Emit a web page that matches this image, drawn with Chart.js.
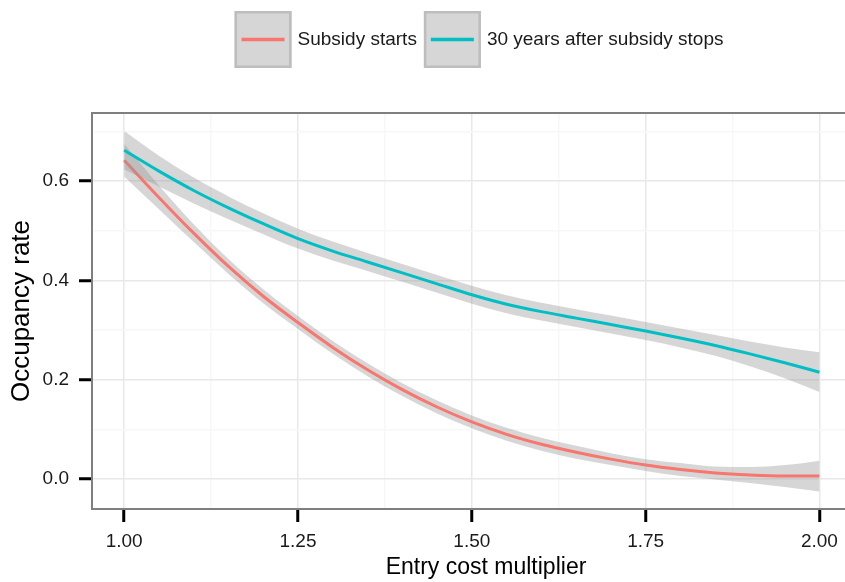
<!DOCTYPE html>
<html>
<head>
<meta charset="utf-8">
<title>Occupancy rate vs entry cost multiplier</title>
<script src="https://cdn.jsdelivr.net/npm/chart.js@4.4.1/dist/chart.umd.min.js"></script>
<style>
    html, body { margin: 0; padding: 0; background: #fff; overflow: hidden; }
    #chart { display: block; }
</style>
</head>
<body>
<canvas id="chart" width="890" height="582"></canvas>
<script>
// values
const xValues = [1.00, 1.05, 1.10, 1.15, 1.20, 1.25, 1.30, 1.35, 1.40, 1.45, 1.50,
                 1.55, 1.60, 1.65, 1.70, 1.75, 1.80, 1.85, 1.90, 1.95, 2.00];

const startsFit = [0.642, 0.567, 0.495, 0.428, 0.368, 0.315, 0.265, 0.220, 0.180, 0.145, 0.115,
                   0.090, 0.070, 0.054, 0.040, 0.028, 0.019, 0.012, 0.008, 0.006, 0.006];
const startsLow = [0.609, 0.543, 0.477, 0.413, 0.354, 0.302, 0.252, 0.207, 0.167, 0.132, 0.102,
                   0.077, 0.057, 0.041, 0.028, 0.016, 0.006, -0.001, -0.008, -0.016, -0.025];
const startsHigh = [0.675, 0.591, 0.513, 0.443, 0.382, 0.328, 0.278, 0.233, 0.193, 0.158, 0.128,
                    0.103, 0.083, 0.067, 0.052, 0.040, 0.032, 0.025, 0.024, 0.028, 0.037];

const afterFit = [0.662, 0.620, 0.581, 0.546, 0.514, 0.484, 0.459, 0.437, 0.415, 0.393, 0.371,
                  0.352, 0.337, 0.324, 0.311, 0.298, 0.284, 0.269, 0.252, 0.234, 0.215];
const afterLow = [0.623, 0.589, 0.555, 0.523, 0.493, 0.464, 0.440, 0.419, 0.397, 0.375, 0.353,
                  0.334, 0.319, 0.306, 0.293, 0.280, 0.265, 0.248, 0.227, 0.203, 0.175];
const afterHigh = [0.701, 0.651, 0.607, 0.569, 0.535, 0.504, 0.478, 0.455, 0.433, 0.411, 0.389,
                   0.370, 0.355, 0.342, 0.329, 0.316, 0.303, 0.290, 0.277, 0.265, 0.255];

const seriesNames = ['Subsidy starts', '30 years after subsidy stops'];
const seriesColors = ['#F8766D', '#00BFC4'];

const xTicks = [1.00, 1.25, 1.50, 1.75, 2.00];
const xTickLabels = ['1.00', '1.25', '1.50', '1.75', '2.00'];
const xMinorTicks = [1.125, 1.375, 1.625, 1.875];
const yTicks = [0.0, 0.2, 0.4, 0.6];
const yTickLabels = ['0.0', '0.2', '0.4', '0.6'];
const yMinorTicks = [0.1, 0.3, 0.5, 0.7];

const FONT = '"Liberation Sans", Arial, Helvetica, sans-serif';
const bandColor = 'rgba(153,153,153,0.4)';

function points(ys) {
    return xValues.map((x, i) => ({ x: x, y: ys[i] }));
}

function lineSet(label, ys, color) {
    return {
        label: label,
        data: points(ys),
        borderColor: color,
        borderWidth: 3,
        pointRadius: 0,
        fill: false,
        cubicInterpolationMode: 'monotone'
    };
}

function bandSet(ys, fillTo) {
    return {
        data: points(ys),
        borderColor: 'rgba(0,0,0,0)',
        borderWidth: 0,
        pointRadius: 0,
        backgroundColor: bandColor,
        fill: fillTo,
        cubicInterpolationMode: 'monotone'
    };
}

function setTicks(scale, majors, minors) {
    const list = majors.map(v => ({ value: v, minor: false }))
        .concat(minors.map(v => ({ value: v, minor: true })));
    list.sort((a, b) => a.value - b.value);
    scale.ticks = list;
}

// panel border drawn over the data, like ggplot does
const panelBorder = {
    id: 'panelBorder',
    afterDatasetsDraw(chart) {
        const a = chart.chartArea;
        const ctx = chart.ctx;
        ctx.save();
        ctx.strokeStyle = '#7f7f7f';
        ctx.lineWidth = 2;
        ctx.strokeRect(a.left, a.top, a.right - a.left, a.bottom - a.top);
        ctx.restore();
    }
};

// legend with grey keys on top
const keyLegend = {
    id: 'keyLegend',
    afterDraw(chart) {
        const ctx = chart.ctx;
        ctx.save();
        ctx.font = '19px ' + FONT;
        const box = 57, gapText = 6, gapItem = 7;
        const widths = seriesNames.map(n => ctx.measureText(n).width);
        let total = gapItem * (seriesNames.length - 1);
        widths.forEach(w => { total += box + gapText + w; });
        let x = 479 - total / 2;
        const top = 11;
        const mid = top + box / 2;
        seriesNames.forEach((name, i) => {
            ctx.fillStyle = '#d6d6d6';
            ctx.fillRect(x, top, box, box);
            ctx.strokeStyle = '#bdbdbd';
            ctx.lineWidth = 2.5;
            ctx.strokeRect(x + 1.25, top + 1.25, box - 2.5, box - 2.5);
            ctx.strokeStyle = seriesColors[i];
            ctx.lineWidth = 3.3;
            ctx.beginPath();
            ctx.moveTo(x + 7, mid);
            ctx.lineTo(x + box - 7, mid);
            ctx.stroke();
            ctx.fillStyle = '#1a1a1a';
            ctx.textBaseline = 'middle';
            ctx.textAlign = 'left';
            ctx.fillText(name, x + box + gapText, mid);
            x += box + gapText + widths[i] + gapItem;
        });
        ctx.restore();
    }
};

Chart.defaults.font.family = FONT;
Chart.defaults.color = '#1a1a1a';

const gridColor = ctx => (ctx.tick && ctx.tick.minor) ? '#f7f7f7' : '#e8e8e8';
const tickColor = ctx => (ctx.tick && ctx.tick.minor) ? 'rgba(0,0,0,0)' : '#000';

new Chart(document.getElementById('chart'), {
    type: 'line',
    data: {
        datasets: [
            lineSet(seriesNames[1], afterFit, seriesColors[1]),
            bandSet(afterLow, '+1'),
            bandSet(afterHigh, false),
            lineSet(seriesNames[0], startsFit, seriesColors[0]),
            bandSet(startsLow, '+1'),
            bandSet(startsHigh, false)
        ]
    },
    options: {
        responsive: false,
        animation: false,
        devicePixelRatio: 1,
        layout: { padding: { top: 113, right: 10, left: 0, bottom: 0 } },
        plugins: {
            legend: { display: false },
            tooltip: { enabled: false }
        },
        scales: {
            x: {
                type: 'linear',
                min: 0.9537,
                max: 2.0871,
                afterBuildTicks: scale => setTicks(scale, xTicks, xMinorTicks),
                afterFit: scale => { scale.height = 73; },
                grid: {
                    color: gridColor,
                    lineWidth: 1.5,
                    tickColor: tickColor,
                    tickWidth: 3,
                    tickLength: 13
                },
                border: { display: false },
                ticks: {
                    autoSkip: false,
                    maxRotation: 0,
                    padding: 8,
                    font: { size: 19 },
                    color: '#1a1a1a',
                    callback: (value, i, ticks) => ticks[i].minor ? '' : xTickLabels[xTicks.indexOf(value)]
                },
                title: {
                    display: true,
                    text: 'Entry cost multiplier',
                    font: { size: 23 },
                    color: '#000',
                    padding: { top: 0, bottom: 1 }
                }
            },
            y: {
                type: 'linear',
                min: -0.0604,
                max: 0.737,
                afterBuildTicks: scale => setTicks(scale, yTicks, yMinorTicks),
                afterFit: scale => { scale.width = 92; },
                grid: {
                    color: gridColor,
                    lineWidth: 1.5,
                    tickColor: tickColor,
                    tickWidth: 3,
                    tickLength: 13
                },
                border: { display: false },
                ticks: {
                    autoSkip: false,
                    padding: 10,
                    font: { size: 19 },
                    color: '#1a1a1a',
                    callback: (value, i, ticks) => ticks[i].minor ? '' : yTickLabels[yTicks.indexOf(value)]
                },
                title: {
                    display: true,
                    text: 'Occupancy rate',
                    font: { size: 26 },
                    color: '#000',
                    padding: { top: 6, bottom: 0 }
                }
            }
        }
    },
    plugins: [panelBorder, keyLegend]
});
</script>
</body>
</html>
